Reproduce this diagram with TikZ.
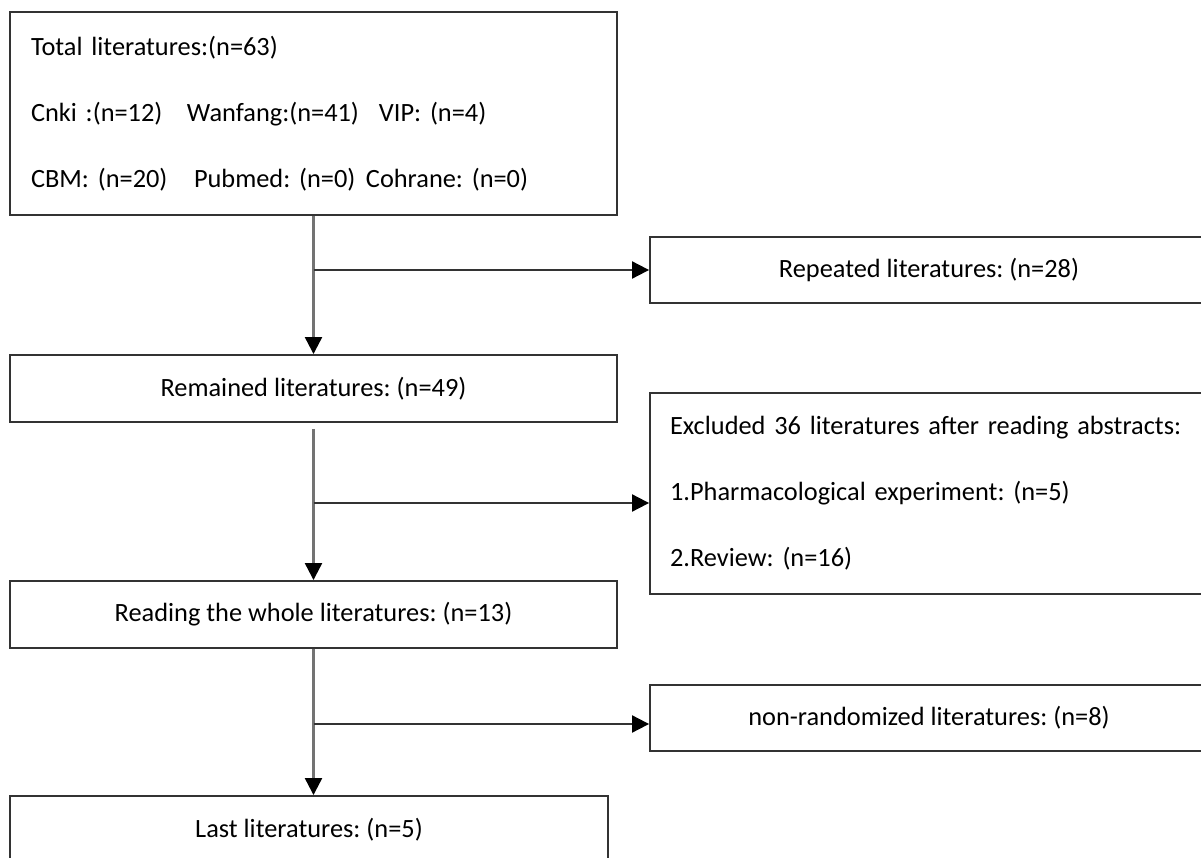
\documentclass[tikz,border=0pt]{standalone}
\usepackage{fontspec}
\setmainfont{Carlito}
\usepackage{tikz}
\usetikzlibrary{arrows.meta}
\frenchspacing

\begin{document}
\begin{tikzpicture}[x=0.02cm,y=-0.02cm,
	box/.style={shape=rectangle,draw=black!80,line width=1.1pt,font=\fontsize{15}{18}\selectfont},
	wide/.style={box,minimum width=12.14cm,minimum height=1.34cm},
	side/.style={box,minimum width=11.16cm,minimum height=1.32cm},
	list/.style={align=left,font=\fontsize{15}{37.5}\selectfont},
	arr/.style={-{Triangle[length=0.34cm,width=0.34cm,color=black]},line width=1.3pt,draw=black!55}]
	\useasboundingbox (0,0) rectangle (1201,858);
	\node[wide,list,minimum height=4.06cm,inner xsep=0.42cm,text width=11.3cm] (total) at (313.5,113.5)
		{Total literatures:(n=63)\\
		\makebox[3.12cm][l]{Cnki :(n=12)}\makebox[3.84cm][l]{Wanfang:(n=41)}VIP: (n=4)\\
		\makebox[3.26cm][l]{CBM: (n=20)}\makebox[3.44cm][l]{Pubmed: (n=0)}Cohrane: (n=0)};
	\node[side] (repeat) at (929,270)     {Repeated literatures: (n=28)};
	\node[wide] (remain) at (313.5,388.5) {Remained literatures: (n=49)};
	\node[side,list,minimum height=4.02cm,inner xsep=0.4cm,text width=10.36cm] (excl) at (929,493.5)
		{Excluded 36 literatures after reading abstracts:\\
		1.Pharmacological experiment: (n=5)\\
		2.Review: (n=16)};
	\node[wide] (read) at (313.5,614.5)   {Reading the whole literatures: (n=13)};
	\node[side] (nonrand) at (929,718)    {non-randomized literatures: (n=8)};
	\node[wide,minimum width=11.96cm] (last) at (309,829.5) {Last literatures: (n=5)};
	% junctions on the main line
	\coordinate (j1) at (313.5,270);
	\coordinate (j2) at (313.5,503);
	\coordinate (j3) at (313.5,724);
	\draw[arr] (total.south) -- (total.south |- remain.north);
	\draw[arr,shorten <=0.12cm] (remain.south) -- (remain.south |- read.north);
	\draw[arr] (read.south) -- (read.south |- last.north);
	\draw[arr,draw=black!80,line width=1.1pt] (j1) -- (j1 -| repeat.west);
	\draw[arr,draw=black!80,line width=1.1pt] (j2) -- (j2 -| excl.west);
	\draw[arr,draw=black!80,line width=1.1pt] (j3) -- (j3 -| nonrand.west);
\end{tikzpicture}
\end{document}
